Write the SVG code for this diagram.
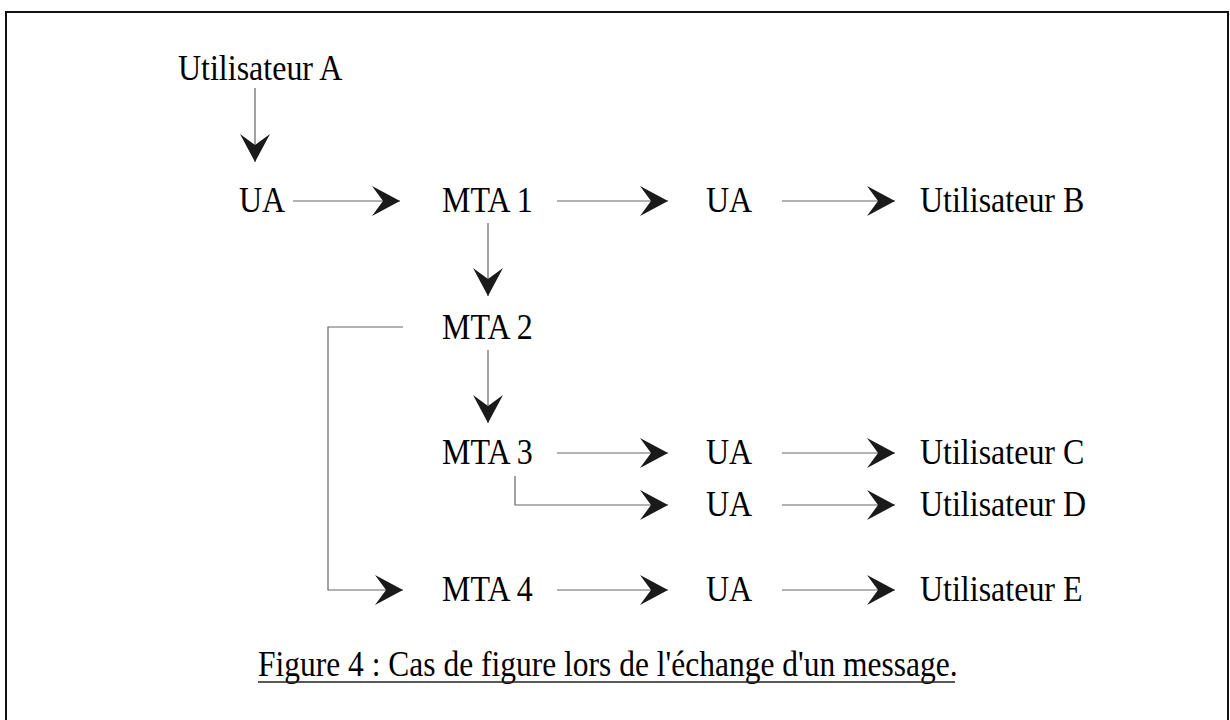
<svg xmlns="http://www.w3.org/2000/svg" width="1230" height="720" viewBox="0 0 1230 720">
<style>
.t{font-family:"Liberation Serif","Times New Roman",serif;font-size:32px;fill:#000}
.cap{font-size:31.5px}
.c{fill:none;stroke:#666;stroke-width:1.2}
.f{fill:none;stroke:#111;stroke-width:2}
</style>
<defs>
<marker id="ah" markerUnits="userSpaceOnUse" markerWidth="30" markerHeight="32" refX="28" refY="15" orient="auto" overflow="visible">
<path d="M0,0 L28,15 L0,30 L11,15 Z" fill="#1a1a1a"/>
</marker>
</defs>
<rect width="1230" height="720" fill="#fff"/>
<path class="f" d="M6,740 L6,12 L1228,12 L1228,740"/>
<g id="userA"><text class="t" transform="translate(178,80) scale(1,1.15)">Utilisateur A</text></g>
<g id="ua1"><text class="t" transform="translate(239,212) scale(1,1.15)">UA</text></g>
<g id="mta1"><text class="t" transform="translate(442,212) scale(1,1.15)">MTA 1</text></g>
<g id="ua2"><text class="t" transform="translate(706,212) scale(1,1.15)">UA</text></g>
<g id="userB"><text class="t" transform="translate(920,212) scale(1,1.15)">Utilisateur B</text></g>
<g id="mta2"><text class="t" transform="translate(442,339) scale(1,1.15)">MTA 2</text></g>
<g id="mta3"><text class="t" transform="translate(442,464) scale(1,1.15)">MTA 3</text></g>
<g id="ua3"><text class="t" transform="translate(706,464) scale(1,1.15)">UA</text></g>
<g id="userC"><text class="t" transform="translate(920,464) scale(1,1.15)">Utilisateur C</text></g>
<g id="ua4"><text class="t" transform="translate(706,516) scale(1,1.15)">UA</text></g>
<g id="userD"><text class="t" transform="translate(920,516) scale(1,1.15)">Utilisateur D</text></g>
<g id="mta4"><text class="t" transform="translate(442,601) scale(1,1.15)">MTA 4</text></g>
<g id="ua5"><text class="t" transform="translate(706,601) scale(1,1.15)">UA</text></g>
<g id="userE"><text class="t" transform="translate(920,601) scale(1,1.15)">Utilisateur E</text></g>
<g id="connectors">
<path class="c" marker-end="url(#ah)" d="M255,88 L255,162"/>
<path class="c" marker-end="url(#ah)" d="M293,201 L400,201"/>
<path class="c" marker-end="url(#ah)" d="M557,201 L668,201"/>
<path class="c" marker-end="url(#ah)" d="M782,201 L895,201"/>
<path class="c" marker-end="url(#ah)" d="M488,223 L488,296"/>
<path class="c" marker-end="url(#ah)" d="M488,350 L488,423"/>
<path class="c" marker-end="url(#ah)" d="M557,453 L668,453"/>
<path class="c" marker-end="url(#ah)" d="M782,453 L895,453"/>
<path class="c" marker-end="url(#ah)" d="M515,476 L515,505 L668,505"/>
<path class="c" marker-end="url(#ah)" d="M782,505 L895,505"/>
<path class="c" marker-end="url(#ah)" d="M403,327 L328,327 L328,590 L403,590"/>
<path class="c" marker-end="url(#ah)" d="M557,590 L668,590"/>
<path class="c" marker-end="url(#ah)" d="M782,590 L895,590"/>
</g>
<g id="caption">
<text class="t cap" transform="translate(258,676) scale(1,1.15)">Figure 4 : Cas de figure lors de l'échange d'un message.</text>
<line x1="258" y1="682" x2="955" y2="682" stroke="#222" stroke-width="1.5"/>
</g>
</svg>
